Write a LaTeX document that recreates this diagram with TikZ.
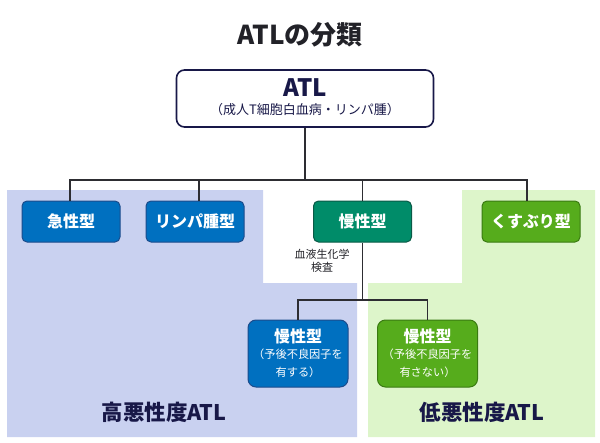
\documentclass[tikz,border=0pt]{standalone}
\usepackage{fontspec}
\setmainfont{Noto Sans CJK JP}
\usepackage{tikz}
\usetikzlibrary{positioning, calc}
\definecolor{navytext}{RGB}{24,24,72}
\definecolor{titlegray}{RGB}{34,34,40}
\definecolor{linegray}{RGB}{45,45,50}
\definecolor{highbg}{RGB}{201,209,240}
\definecolor{lowbg}{RGB}{221,245,202}
\definecolor{blue1}{RGB}{0,112,192}
\definecolor{blue1d}{RGB}{28,76,140}
\definecolor{teal1}{RGB}{0,140,105}
\definecolor{teal1d}{RGB}{10,90,70}
\definecolor{green1}{RGB}{86,172,28}
\definecolor{green1d}{RGB}{58,122,18}
\newcommand{\subnote}{\fontsize{11.2}{14}\selectfont\mdseries}
\tikzset{
  typebox/.style={
    draw,
    rectangle,
    rounded corners=5pt,
    line width=1pt,
    minimum height=41pt,
    minimum width=98pt,
    align=center,
    text=white,
    font=\fontsize{16}{18}\selectfont\bfseries,
  },
  highbox/.style={
    typebox,
    fill=blue1,
    draw=blue1d
  },
  chronicbox/.style={
    typebox,
    fill=teal1,
    draw=teal1d
  },
  lowbox/.style={
    typebox,
    fill=green1,
    draw=green1d
  },
  subbox/.style={
    minimum height=67pt,
    minimum width=100pt,
    rounded corners=8pt
  },
  link/.style={
    draw=linegray,
    line width=1.6pt
  },
  grouplabel/.style={
    text=navytext,
    font=\fontsize{21.5}{24}\selectfont\bfseries
  }
}

\begin{document}
\begin{tikzpicture}[x=1pt,y=-1pt]
\useasboundingbox (0,0) rectangle (600,442);

% --- Background areas ---
\fill[highbg] (7,190) -- (263,190) -- (263,283) -- (357,283) -- (357,437) -- (7,437) -- cycle;
\fill[lowbg] (462,190) -- (595,190) -- (595,437) -- (368,437) -- (368,283) -- (462,283) -- cycle;

% --- Title ---
\node[text=titlegray, font=\fontsize{26}{28}\selectfont\bfseries] (title) at (300,35) {ATLの分類};

% --- Root ---
\node[draw=navytext, fill=white, rectangle, rounded corners=8pt, line width=1.6pt,
      minimum width=257pt, minimum height=57pt, text=navytext] (atl) at (305,98.5) {};
\node[text=navytext, font=\fontsize{24}{26}\selectfont\bfseries] (atlname) at (305,88) {ATL};
\node[text=navytext, font=\fontsize{13}{15}\selectfont] (atlnote) at (305,110) {（成人T細胞白血病・リンパ腫）};

% --- Four types ---
\node[highbox] (acute) at (71,221.5) {急性型};
\node[highbox] (lymphoma) at (195,221.5) {リンパ腫型};
\node[chronicbox] (chronic) at (362.5,221.5) {慢性型};
\node[lowbox] (smoldering) at (531,221.5) {くすぶり型};

% --- Chronic split ---
\node[highbox, subbox] (chronichigh) at (298,353.5)
  {慢性型\\[-2pt]\subnote （予後不良因子を\\\subnote 有する）};
\node[lowbox, subbox] (chroniclow) at (427.5,353.5)
  {慢性型\\[-2pt]\subnote （予後不良因子を\\\subnote 有さない）};

\node[font=\fontsize{11}{13}\selectfont, text=titlegray, align=center] (test) at (322,261)
  {血液生化学\\検査};

% --- Connectors ---
\coordinate (hub) at (305,180);
\coordinate (split) at (362.5,300);
\draw[link] (atl.south) -- (hub);
\draw[link] (hub) -| ([xshift=-1pt]acute.north);
\draw[link] (hub) -| ([xshift=4pt]lymphoma.north);
\draw[link] (hub) -| (chronic.north);
\draw[link] (hub) -| ([xshift=-4pt]smoldering.north);
\draw[link] (chronic.south) -- (split);
\draw[link] (split) -| (chronichigh.north);
\draw[link] (split) -| (chroniclow.north);

% --- Group labels ---
\node[grouplabel] (highlabel) at (164,412) {高悪性度ATL};
\node[grouplabel] (lowlabel) at (482,412) {低悪性度ATL};

\end{tikzpicture}
\end{document}
